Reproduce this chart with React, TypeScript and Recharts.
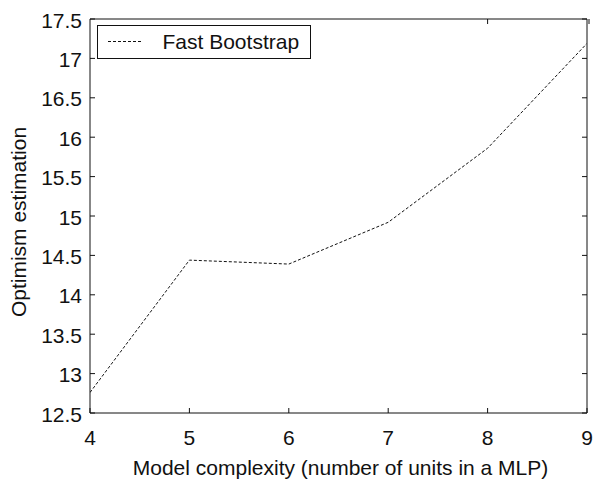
import React from 'react';
import { LineChart, Line, XAxis, YAxis, Legend } from 'recharts';

// Model complexity (number of hidden units) and the estimated optimism
const units = [4, 5, 6, 7, 8, 9];
const optimism = [12.76, 14.44, 14.39, 14.92, 15.86, 17.19];

const xTicks = [4, 5, 6, 7, 8, 9];
const yTicks = [12.5, 13, 13.5, 14, 14.5, 15, 15.5, 16, 16.5, 17, 17.5];

const seriesName = 'Fast Bootstrap';
const xTitle = 'Model complexity (number of units in a MLP)';
const yTitle = 'Optimism estimation';

const data = units.map((u, i) => ({ units: u, optimism: optimism[i] }));

const FONT = '"Liberation Sans", Arial, Helvetica, sans-serif';
const INK = '#111';
const TICK_LEN = 5;
const X_GAP = 17;
const Y_GAP = 8;

// Bottom axis: inward tick mark plus the value below the axis
const BottomTick = (props: any) => {
  const { x, y, payload } = props;
  const axisY = y - X_GAP;
  return (
    <g>
      <line x1={x} x2={x} y1={axisY} y2={axisY - TICK_LEN} stroke={INK} strokeWidth={1} />
      <text x={x} y={axisY + X_GAP + 15} textAnchor="middle" fontSize={21} fontFamily={FONT} fill={INK}>
        {payload.value}
      </text>
    </g>
  );
};

// Left axis: inward tick mark plus the value to the left
const LeftTick = (props: any) => {
  const { x, y, payload } = props;
  const axisX = x + Y_GAP;
  return (
    <g>
      <line x1={axisX} x2={axisX + TICK_LEN} y1={y} y2={y} stroke={INK} strokeWidth={1} />
      <text x={x} y={y + 8.5} textAnchor="end" fontSize={21} fontFamily={FONT} fill={INK}>
        {payload.value}
      </text>
    </g>
  );
};

const TopTick = (props: any) => {
  const { x, y } = props;
  return <line x1={x} x2={x} y1={y} y2={y + TICK_LEN} stroke={INK} strokeWidth={1} />;
};

const RightTick = (props: any) => {
  const { x, y } = props;
  return <line x1={x} x2={x - TICK_LEN} y1={y} y2={y} stroke={INK} strokeWidth={1} />;
};

const LegendBox = () => (
  <svg width={215} height={35} style={{ display: 'block' }}>
    <rect x={0.5} y={0.5} width={213} height={33} fill="#fff" stroke={INK} strokeWidth={1} />
    <line x1={11} y1={16.5} x2={45} y2={16.5} stroke={INK} strokeWidth={1} strokeDasharray="3 2" />
    <text x={65.5} y={23.5} fontSize={21} fontFamily={FONT} fill={INK}>
      {seriesName}
    </text>
  </svg>
);

const XTitle = (props: any) => {
  const vb = props.viewBox || {};
  return (
    <text
      x={vb.x + vb.width / 2 + 2}
      y={475}
      textAnchor="middle"
      fontSize={21}
      fontFamily={FONT}
      fill={INK}
    >
      {xTitle}
    </text>
  );
};

const YTitle = (props: any) => {
  const vb = props.viewBox || {};
  const cx = vb.x + 26;
  const cy = vb.y + vb.height / 2 + 6;
  return (
    <text
      x={cx}
      y={cy}
      transform={`rotate(-90, ${cx}, ${cy})`}
      textAnchor="middle"
      fontSize={21}
      fontFamily={FONT}
      fill={INK}
    >
      {yTitle}
    </text>
  );
};

export default function App() {
  return (
    <div style={{ position: 'absolute', left: 0, top: 0, background: '#fff' }}>
      <LineChart
        width={593}
        height={480}
        data={data}
        margin={{ top: 18, right: 0, bottom: 0, left: 0 }}
      >
        {/* bottom and left axes carry the labels; ticks point inward */}
        <XAxis
          dataKey="units"
          type="number"
          domain={[4, 9]}
          ticks={xTicks}
          allowDataOverflow
          height={67}
          tickSize={0}
          tickLine={false}
          tickMargin={X_GAP}
          tick={<BottomTick />}
          stroke={INK}
          label={<XTitle />}
        />
        <YAxis
          type="number"
          domain={[12.5, 17.5]}
          ticks={yTicks}
          allowDataOverflow
          width={90}
          tickSize={0}
          tickLine={false}
          tickMargin={Y_GAP}
          tick={<LeftTick />}
          stroke={INK}
          label={<YTitle />}
        />
        {/* top and right axes close the frame with tick marks only */}
        <XAxis
          xAxisId="top"
          orientation="top"
          type="number"
          domain={[4, 9]}
          ticks={xTicks}
          allowDataOverflow
          height={1}
          tickSize={0}
          tickMargin={0}
          tickLine={false}
          tick={<TopTick />}
          stroke={INK}
        />
        <YAxis
          yAxisId="right"
          orientation="right"
          type="number"
          domain={[12.5, 17.5]}
          ticks={yTicks}
          allowDataOverflow
          width={6}
          tickSize={0}
          tickMargin={0}
          tickLine={false}
          tick={<RightTick />}
          stroke={INK}
        />
        <Legend
          layout="vertical"
          verticalAlign="middle"
          align="center"
          content={<LegendBox />}
          wrapperStyle={{ left: 97, top: 25, width: 215, height: 35, position: 'absolute' }}
        />
        <Line
          type="linear"
          dataKey="optimism"
          name={seriesName}
          stroke={INK}
          strokeWidth={1}
          strokeDasharray="3 2"
          dot={false}
          isAnimationActive={false}
        />
      </LineChart>
    </div>
  );
}
